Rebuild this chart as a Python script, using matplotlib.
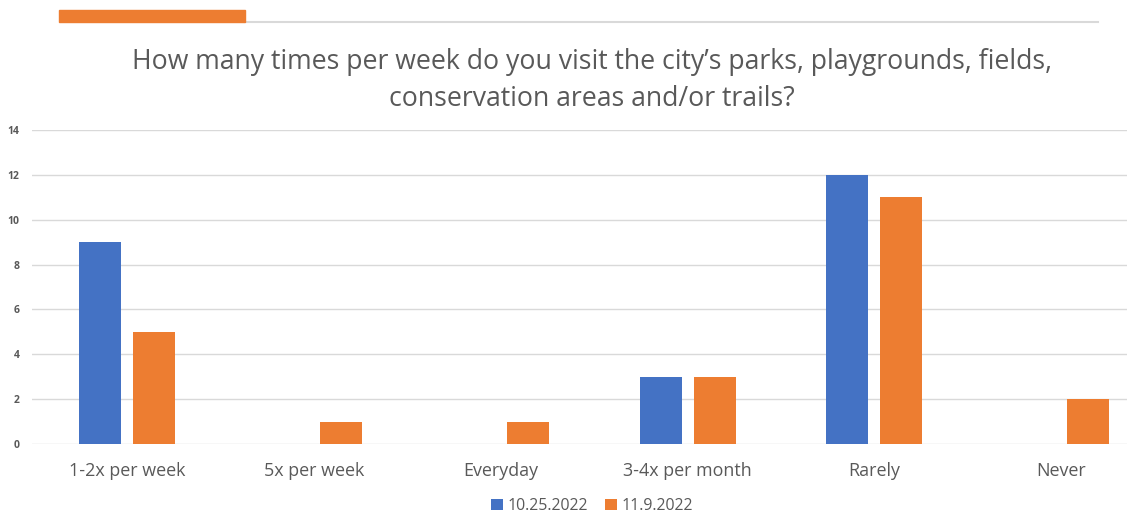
import matplotlib
matplotlib.use("Agg")
import matplotlib.pyplot as plt
from matplotlib.patches import Rectangle
from matplotlib.lines import Line2D
import numpy as np

categories = ["1-2x per week", "5x per week", "Everyday", "3-4x per month", "Rarely", "Never"]
series_names = ["10.25.2022", "11.9.2022"]
values_1025 = [9, 0, 0, 3, 12, 0]
values_1109 = [5, 1, 1, 3, 11, 2]
yticks = [0, 2, 4, 6, 8, 10, 12, 14]

BLUE = "#4472C4"
ORANGE = "#ED7D31"
GRID = "#D9D9D9"
TEXT = "#595959"

W, H = 1127, 512
fig = plt.figure(figsize=(W / 100, H / 100), dpi=100)
plt.rcParams['font.family'] = ['Open Sans', 'DejaVu Sans']

# decorative header
fig.patches.append(Rectangle((59 / W, 1 - 22 / H), (245 - 59) / W, 12 / H,
                             transform=fig.transFigure, color=ORANGE, zorder=5))
fig.lines.append(Line2D([245 / W, 1098 / W], [1 - 21.5 / H, 1 - 21.5 / H],
                        transform=fig.transFigure, color="#D9D9D9", lw=1.5))

ax = fig.add_axes([32 / W, 1 - 444 / H, 1 - 32 / W, (444 - 130) / H])
x = np.arange(len(categories))
bw = 0.225
off = 0.1445
ax.bar(x - off, values_1025, bw, color=BLUE, label=series_names[0], zorder=3)
ax.bar(x + off, values_1109, bw, color=ORANGE, label=series_names[1], zorder=3)

ax.set_xlim(-0.51, 5.353)
ax.set_ylim(0, 14)
ax.set_yticks(yticks)
ax.set_yticklabels([str(v) for v in yticks], fontsize=7.5, fontweight='bold', color=TEXT)
ax.set_xticks(x)
ax.set_xticklabels(categories, fontsize=12.9, color=TEXT)
ax.tick_params(axis='both', length=0)
ax.tick_params(axis='y', pad=9)
ax.tick_params(axis='x', pad=13)
ax.grid(axis='y', color=GRID, lw=1, zorder=0)
for s in ax.spines.values():
    s.set_visible(False)

fig.text(592 / W, 1 - 62 / H, "How many times per week do you visit the city\u2019s parks, playgrounds, fields,",
         ha='center', va='center', fontsize=19.2, color=TEXT)
fig.text(592 / W, 1 - 99 / H, "conservation areas and/or trails?",
         ha='center', va='center', fontsize=19.2, color=TEXT)

leg = fig.legend(loc='center', bbox_to_anchor=(592 / W, 1 - 506 / H), ncol=2, frameon=False,
                 fontsize=11.4, handlelength=0.75, handleheight=0.75, handletextpad=0.25, columnspacing=1.1)
for t in leg.get_texts():
    t.set_color(TEXT)

fig.savefig("out.png", dpi=100)
